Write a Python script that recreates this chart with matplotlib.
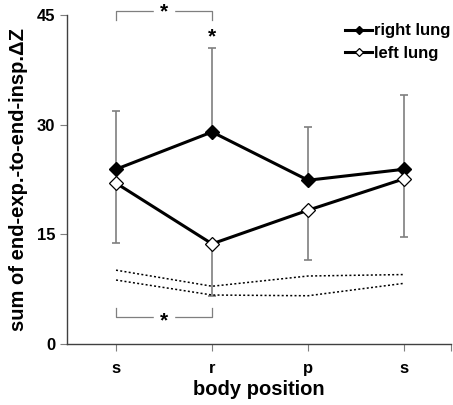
import matplotlib
matplotlib.use("Agg")
import matplotlib.pyplot as plt

plt.rcParams["font.family"] = ["Liberation Sans", "DejaVu Sans"]
plt.rcParams["font.weight"] = "bold"

x = [1, 2, 3, 4]
positions = ["s", "r", "p", "s"]
right_lung = [23.9, 29.0, 22.4, 23.9]
right_sd = [7.9, 11.5, 7.3, 10.2]
left_lung = [22.0, 13.7, 18.3, 22.6]
left_sd = [8.2, 7.2, 6.8, 8.0]
ref_upper = [10.1, 7.9, 9.3, 9.5]
ref_lower = [8.75, 6.7, 6.6, 8.3]

GREY = "#7f7f7f"

fig = plt.figure(figsize=(4.53, 4.05), dpi=100)
ax = fig.add_axes([0.148, 0.1506, 0.848, 0.8124])

# error bars: upward for right lung, downward for left lung
ax.errorbar(x, right_lung, yerr=[[0] * 4, right_sd], fmt="none", ecolor=GREY,
            elinewidth=1.2, capsize=3, capthick=1.2, zorder=1)
ax.errorbar(x, left_lung, yerr=[left_sd, [0] * 4], fmt="none", ecolor=GREY,
            elinewidth=1.2, capsize=3, capthick=1.2, zorder=1)

ax.plot(x, ref_upper, ls=(0, (1.3, 1.5)), color="black", lw=1.1, zorder=2)
ax.plot(x, ref_lower, ls=(0, (1.3, 1.5)), color="black", lw=1.1, zorder=2)

ax.plot(x, right_lung, "-D", color="black", lw=2.2, ms=7, mfc="black",
        mec="black", label="right lung", zorder=3)
ax.plot(x, left_lung, "-D", color="black", lw=2.2, ms=7, mfc="white",
        mec="black", mew=0.9, label="left lung", zorder=3)

# significance brackets
top, top_tick = 45.5, 44.3
ax.plot([1, 1, 2, 2], [top_tick, top, top, top_tick], color=GREY, lw=0.9,
        clip_on=False)
ax.text(1.5, top - 0.1, "*", ha="center", va="center", fontsize=15,
        backgroundcolor="white", clip_on=False)
ax.text(2, 42.0, "*", ha="center", va="center", fontsize=15)
bot, bot_tick = 3.7, 4.9
ax.plot([1, 1, 2, 2], [bot_tick, bot, bot, bot_tick], color=GREY, lw=0.9)
ax.text(1.5, bot - 0.5, "*", ha="center", va="center", fontsize=15,
        backgroundcolor="white")

ax.set_xlim(0.49, 4.49)
ax.set_ylim(0, 45)
ax.set_xticks([1, 2, 3, 4, 4.49])
ax.set_xticklabels(positions + [""])
ax.set_yticks([0, 15, 30, 45])
ax.tick_params(axis="both", labelsize=12, direction="out", length=5, width=0.8,
               colors=GREY, labelcolor="black")
ax.tick_params(axis="x", pad=7)
for s in ("top", "right"):
    ax.spines[s].set_visible(False)
for s in ("left", "bottom"):
    ax.spines[s].set_color("#404040")
    ax.spines[s].set_linewidth(1.0)

ax.set_xlabel("body position", fontsize=14.5, fontweight="bold", labelpad=3)
ax.set_ylabel("sum of end-exp.-to-end-insp.\u0394Z", fontsize=14.5,
              fontweight="bold", labelpad=6)

leg = ax.legend(loc="upper right", bbox_to_anchor=(1.025, 1.005), frameon=False,
                fontsize=12, handlelength=1.6, handletextpad=0.15,
                borderaxespad=0.2, labelspacing=0.45, markerscale=0.6)

fig.savefig("out.png", dpi=100)
